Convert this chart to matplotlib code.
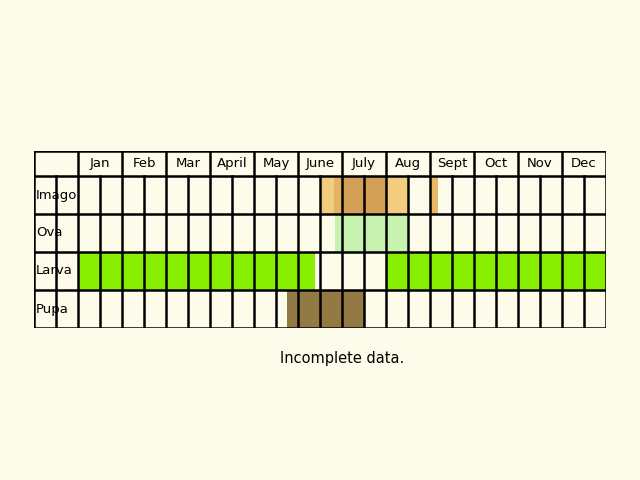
import matplotlib
matplotlib.use("Agg")
import matplotlib.pyplot as plt

months = ["Jan", "Feb", "Mar", "April", "May", "June", "July", "Aug", "Sept", "Oct", "Nov", "Dec"]
stages = ["Imago", "Ova", "Larva", "Pupa"]
# spans in half-month units: (stage, start, end, colour)
spans = [
    ("Imago", 11.0, 12.0, "#f2cd7e"),
    ("Imago", 11.64, 12.0, "#e3b466"),
    ("Imago", 12.0, 14.0, "#d4a055"),
    ("Imago", 14.0, 15.0, "#f2cd7e"),
    ("Imago", 16.0, 16.36, "#e9b866"),
    ("Ova", 11.7, 15.0, "#c8f2b0"),
    ("Larva", 0.0, 10.77, "#88ee00"),
    ("Larva", 14.0, 24.0, "#88ee00"),
    ("Pupa", 9.5, 13.0, "#937a45"),
]

BG = "#fdfbe9"
HEAD = 25 / 38

fig = plt.figure(figsize=(6.4, 4.8), dpi=100, facecolor=BG)
ax = fig.add_axes([34 / 640, 1 - 328 / 480, 572 / 640, 177 / 480])
ax.set_xlim(-2, 24)
ax.set_ylim(4 + HEAD, 0)
ax.axis("off")
ax.set_facecolor(BG)

for stage, a, b, c in spans:
    r = stages.index(stage)
    ax.fill_between([a, b], HEAD + r, HEAD + r + 1, color=c, linewidth=0, zorder=1)

lw = 1.8
# horizontal lines
for y in [0, HEAD, HEAD + 1, HEAD + 2, HEAD + 3, HEAD + 4]:
    ax.plot([-2, 24], [y, y], color="black", lw=lw, zorder=3, solid_capstyle="projecting")
# vertical lines
for x in range(-2, 25):
    if x == -2 or x % 2 == 0 or x == 24:
        ax.plot([x, x], [0, 4 + HEAD], color="black", lw=lw, zorder=3, solid_capstyle="projecting")
    else:
        ax.plot([x, x], [HEAD, 4 + HEAD], color="black", lw=lw, zorder=3)

for i, m in enumerate(months):
    ax.text(2 * i + 1, HEAD / 2, m, ha="center", va="center", fontsize=9.5)
for r, s in enumerate(stages):
    ax.text(-1.9, HEAD + r + 0.5, s, ha="left", va="center", fontsize=9.5)

fig.text(342 / 640, 1 - 359 / 480, "Incomplete data.", ha="center", va="center", fontsize=10.5)
fig.savefig("out.png", facecolor=BG)
